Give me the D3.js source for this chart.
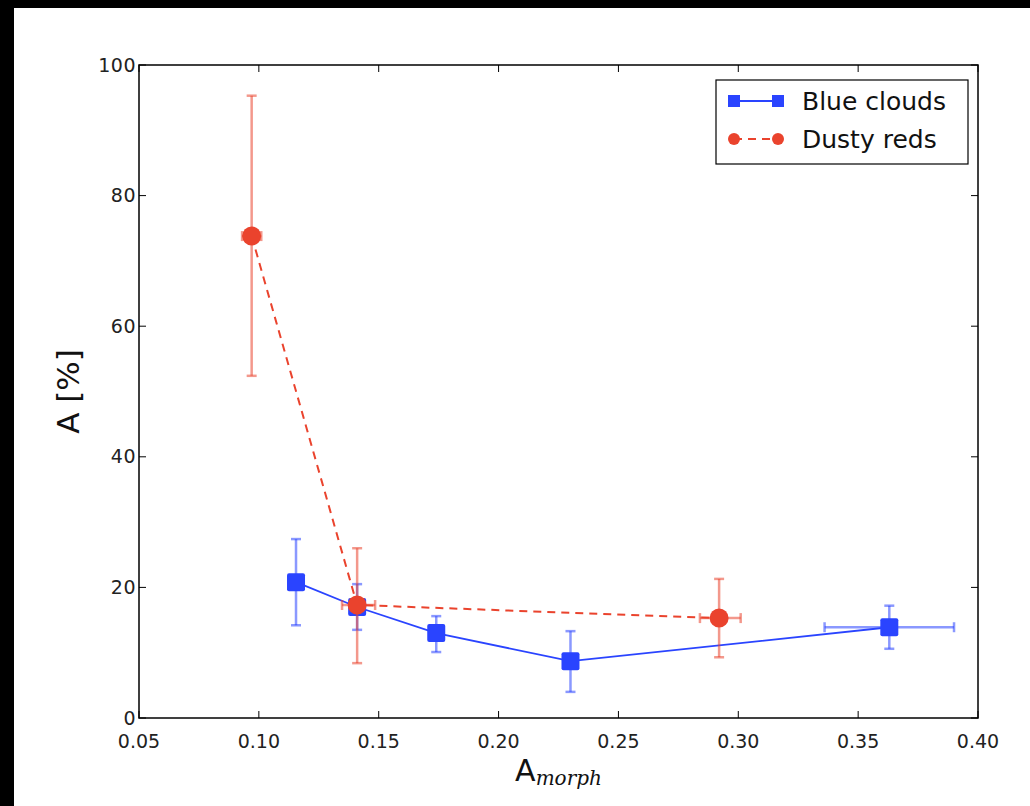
<!DOCTYPE html>
<html>
<head>
<meta charset="utf-8">
<script src="https://cdn.jsdelivr.net/npm/d3@7"></script>
<style>
  body { margin: 0; background: #fff; }
  svg { display: block; }
</style>
</head>
<body>
<div id="chart"></div>
<script>
// data
var blueX   = [0.1155, 0.141, 0.174, 0.230, 0.363];
var blueY   = [20.8, 17.0, 13.0, 8.7, 13.9];
var blueYLo = [14.2, 13.5, 10.1, 4.0, 10.6];
var blueYHi = [27.4, 20.5, 15.6, 13.3, 17.2];
var blueXLo = [0.113, 0.139, 0.172, 0.228, 0.336];
var blueXHi = [0.118, 0.143, 0.176, 0.232, 0.390];

var redX   = [0.097, 0.141, 0.292];
var redY   = [73.8, 17.3, 15.3];
var redYLo = [52.4, 8.4, 9.3];
var redYHi = [95.3, 26.0, 21.3];
var redXLo = [0.093, 0.1347, 0.284];
var redXHi = [0.101, 0.1485, 0.301];

var xTicks = [0.05, 0.10, 0.15, 0.20, 0.25, 0.30, 0.35, 0.40];
var yTicks = [0, 20, 40, 60, 80, 100];
var seriesNames = ["Blue clouds", "Dusty reds"];

var W = 1030, H = 806;
var pLeft = 139, pTop = 65, pRight = 978, pBottom = 718;
var blue = "#2a44ff", red = "#ea432d";
var font = "DejaVu Sans, sans-serif";

var svg = d3.select("#chart").append("svg").attr("width", W).attr("height", H);

// black frame remains on top/left edge of the screenshot
svg.append("rect").attr("x", 0).attr("y", 0).attr("width", W).attr("height", 8).style("fill", "#000");
svg.append("rect").attr("x", 0).attr("y", 0).attr("width", 14).attr("height", H).style("fill", "#000");

var x = d3.scaleLinear().domain([0.05, 0.40]).range([pLeft, pRight]);
var y = d3.scaleLinear().domain([0, 100]).range([pBottom, pTop]);

function pack(xs, ys, xl, xh, yl, yh) {
    return xs.map(function (v, i) {
        return {x: v, y: ys[i], xl: xl[i], xh: xh[i], yl: yl[i], yh: yh[i]};
    });
}
var blueData = pack(blueX, blueY, blueXLo, blueXHi, blueYLo, blueYHi);
var redData = pack(redX, redY, redXLo, redXHi, redYLo, redYHi);

var plot = svg.append("g");

function errorBars(data, color) {
    var g = plot.append("g").style("stroke", color).style("stroke-opacity", 0.55)
        .style("stroke-width", 2.5).style("fill", "none");
    data.forEach(function (d) {
        var cx = x(d.x), cy = y(d.y);
        g.append("line").attr("x1", cx).attr("x2", cx).attr("y1", y(d.yl)).attr("y2", y(d.yh));
        g.append("line").attr("x1", cx - 5).attr("x2", cx + 5).attr("y1", y(d.yl)).attr("y2", y(d.yl));
        g.append("line").attr("x1", cx - 5).attr("x2", cx + 5).attr("y1", y(d.yh)).attr("y2", y(d.yh));
        g.append("line").attr("x1", x(d.xl)).attr("x2", x(d.xh)).attr("y1", cy).attr("y2", cy);
        g.append("line").attr("x1", x(d.xl)).attr("x2", x(d.xl)).attr("y1", cy - 5).attr("y2", cy + 5);
        g.append("line").attr("x1", x(d.xh)).attr("x2", x(d.xh)).attr("y1", cy - 5).attr("y2", cy + 5);
    });
}

var line = d3.line().x(function (d) { return x(d.x); }).y(function (d) { return y(d.y); });

// blue clouds
errorBars(blueData, blue);
plot.append("path").datum(blueData).attr("d", line)
    .style("fill", "none").style("stroke", blue).style("stroke-width", 1.8);
plot.selectAll(".bsq").data(blueData).enter().append("rect").attr("class", "bsq")
    .attr("x", function (d) { return x(d.x) - 9; })
    .attr("y", function (d) { return y(d.y) - 9; })
    .attr("width", 18).attr("height", 18).attr("rx", 2)
    .style("fill", blue);

// dusty reds
errorBars(redData, red);
plot.append("path").datum(redData).attr("d", line)
    .style("fill", "none").style("stroke", red).style("stroke-width", 2)
    .style("stroke-dasharray", "8,6");
plot.selectAll(".rc").data(redData).enter().append("circle").attr("class", "rc")
    .attr("cx", function (d) { return x(d.x); })
    .attr("cy", function (d) { return y(d.y); })
    .attr("r", 9.5).style("fill", red);

// frame
svg.append("rect").attr("x", pLeft).attr("y", pTop).attr("width", pRight - pLeft).attr("height", pBottom - pTop)
    .style("fill", "none").style("stroke", "#000").style("stroke-width", 1.5);

// ticks (inward, all sides)
var tk = svg.append("g").style("stroke", "#000").style("stroke-width", 1);
xTicks.forEach(function (t) {
    tk.append("line").attr("x1", x(t)).attr("x2", x(t)).attr("y1", pBottom).attr("y2", pBottom - 7);
    tk.append("line").attr("x1", x(t)).attr("x2", x(t)).attr("y1", pTop).attr("y2", pTop + 7);
});
yTicks.forEach(function (t) {
    tk.append("line").attr("x1", pLeft).attr("x2", pLeft + 7).attr("y1", y(t)).attr("y2", y(t));
    tk.append("line").attr("x1", pRight).attr("x2", pRight - 7).attr("y1", y(t)).attr("y2", y(t));
});

svg.selectAll(".xl").data(xTicks).enter().append("text").attr("class", "xl")
    .attr("x", function (d) { return x(d); }).attr("y", pBottom + 30)
    .attr("text-anchor", "middle").style("font-family", font).style("font-size", "19px")
    .style("fill", "#222").text(function (d) { return d3.format(".2f")(d); });

svg.selectAll(".yl").data(yTicks).enter().append("text").attr("class", "yl")
    .attr("x", pLeft - 3).attr("y", function (d) { return y(d); }).attr("dy", ".35em")
    .attr("text-anchor", "end").style("font-family", font).style("font-size", "19px")
    .style("letter-spacing", "0.5px")
    .style("fill", "#222").text(function (d) { return d; });

// axis labels
svg.append("text").attr("transform", "translate(79," + ((pTop + pBottom) / 2) + ") rotate(-90)")
    .attr("text-anchor", "middle").style("font-family", font).style("font-size", "31px")
    .style("fill", "#111").text("A [%]");

var xl = svg.append("text").attr("x", (pLeft + pRight) / 2).attr("y", 781)
    .attr("text-anchor", "middle").style("font-family", font).style("fill", "#111");
xl.append("tspan").style("font-size", "30px").text("A");
xl.append("tspan").attr("dy", 4).style("font-size", "20px").style("font-style", "italic")
    .style("font-family", "DejaVu Serif, serif").text("morph");

// legend
var lg = svg.append("g").attr("transform", "translate(716,80)");
lg.append("rect").attr("width", 252).attr("height", 84)
    .style("fill", "#fff").style("stroke", "#000").style("stroke-width", 1.2);
var legItems = [
    {name: seriesNames[0], color: blue, dash: null, shape: "sq"},
    {name: seriesNames[1], color: red, dash: "8,6", shape: "ci"}
];
var le = lg.selectAll(".le").data(legItems).enter().append("g").attr("class", "le")
    .attr("transform", function (d, i) { return "translate(0," + (21 + i * 38) + ")"; });
le.append("line").attr("x1", 18).attr("x2", 62).attr("y1", 0).attr("y2", 0)
    .style("stroke", function (d) { return d.color; }).style("stroke-width", 1.8)
    .style("stroke-dasharray", function (d) { return d.dash; });
le.each(function (d) {
    var g = d3.select(this);
    [18, 62].forEach(function (px) {
        if (d.shape == "sq")
            g.append("rect").attr("x", px - 6).attr("y", -6).attr("width", 12).attr("height", 12).style("fill", d.color);
        else
            g.append("circle").attr("cx", px).attr("cy", 0).attr("r", 6).style("fill", d.color);
    });
});
le.append("text").attr("x", 86).attr("dy", ".35em").style("font-family", font)
    .style("font-size", "25px").style("fill", "#111").text(function (d) { return d.name; });
</script>
</body>
</html>
